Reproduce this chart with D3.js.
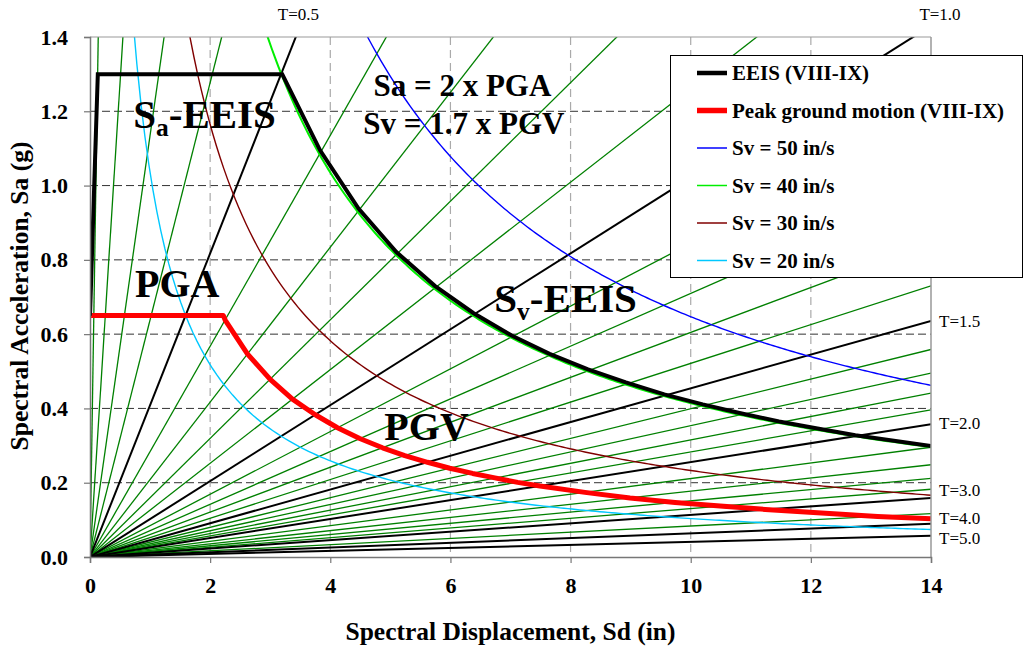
<!DOCTYPE html>
<html>
<head>
<meta charset="utf-8">
<script src="https://cdn.jsdelivr.net/npm/d3@7/dist/d3.min.js"></script>
<style>
  html, body { margin: 0; padding: 0; background: #fff; }
  svg { display: block; font-family: "Liberation Serif", "Times New Roman", serif; }
</style>
</head>
<body>
<svg id="chart" width="1033" height="648"></svg>
<script>
// ---- data -------------------------------------------------------------
const sdTicks = [0, 2, 4, 6, 8, 10, 12, 14];
const saTicks = [0.0, 0.2, 0.4, 0.6, 0.8, 1.0, 1.2, 1.4];

// constant-period lines (s); the labelled ones are drawn heavier
const periods = [0.1, 0.2, 0.3, 0.4, 0.5, 0.6, 0.7, 0.8, 0.9, 1.0,
                 1.1, 1.2, 1.3, 1.4, 1.5, 1.6, 1.7, 1.8, 1.9, 2.0,
                 2.2, 2.4, 2.6, 2.8, 3.0, 3.5, 4.0, 5.0];
const labelledPeriods = [0.5, 1.0, 1.5, 2.0, 3.0, 4.0, 5.0];

// constant spectral-velocity curves (in/s)
const svValues = [50, 40, 30, 20];

// EEIS (VIII-IX) spectrum: [Sd (in), Sa (g)]
const eeisSd = [0, 0.13, 3.20, 3.83, 4.47, 5.10, 5.74, 6.38, 7.01, 7.65, 8.29,
                8.92, 9.56, 10.20, 10.83, 11.47, 12.11, 12.74, 14.0];
const eeisSa = [0.65, 1.30, 1.30, 1.095, 0.938, 0.821, 0.730, 0.657, 0.597, 0.547, 0.505,
                0.470, 0.438, 0.411, 0.387, 0.365, 0.346, 0.328, 0.299];

// Peak ground motion (VIII-IX): [Sd (in), Sa (g)]
const pgmSd = [0, 2.22, 2.25, 2.62, 3.00, 3.37, 3.75, 4.12, 4.49, 4.87, 5.24, 5.62,
               5.99, 6.37, 6.74, 7.12, 7.49, 8.24, 8.99, 9.74, 10.49, 11.24, 13.11, 14.0];
const pgmSa = [0.65, 0.65, 0.638, 0.547, 0.478, 0.425, 0.383, 0.348, 0.319, 0.294, 0.273, 0.255,
               0.239, 0.225, 0.213, 0.201, 0.191, 0.174, 0.159, 0.147, 0.137, 0.128, 0.109, 0.103];

const legendLabels = ["EEIS (VIII-IX)", "Peak ground motion (VIII-IX)",
                      "Sv = 50 in/s", "Sv = 40 in/s", "Sv = 30 in/s", "Sv = 20 in/s"];

// ---- styling ------------------------------------------------------------
const G = 386.4; // in/s^2
const svColor = {50: "#0000ff", 40: "#00ee00", 30: "#800000", 20: "#00c8ff"};
const legendStyle = [
  {color: "#000", width: 4.5},
  {color: "#ff0000", width: 5.5},
  {color: svColor[50], width: 1.5},
  {color: svColor[40], width: 1.5},
  {color: svColor[30], width: 1.5},
  {color: svColor[20], width: 1.5}
];

const svg = d3.select("#chart");
const X0 = 90, X1 = 931, Y0 = 557, Y1 = 37;
const x = d3.scaleLinear().domain([0, 14]).range([X0, X1]);
const y = d3.scaleLinear().domain([0, 1.4]).range([Y0, Y1]);

svg.append("defs").append("clipPath").attr("id", "plotclip")
  .append("rect").attr("x", X0).attr("y", Y1).attr("width", X1 - X0).attr("height", Y0 - Y1);

// grid
const grid = svg.append("g");
grid.selectAll("line.h").data(saTicks.filter(d => d > 0 && d < 1.4)).join("line")
  .attr("x1", X0).attr("x2", X1).attr("y1", d => y(d)).attr("y2", d => y(d))
  .attr("stroke", "#333").attr("stroke-width", 1).attr("stroke-dasharray", "8,4");
grid.selectAll("line.v").data(sdTicks.filter(d => d > 0 && d < 14)).join("line")
  .attr("y1", Y1).attr("y2", Y0).attr("x1", d => x(d)).attr("x2", d => x(d))
  .attr("stroke", "#aaa").attr("stroke-width", 1.2).attr("stroke-dasharray", "8,5");

const plot = svg.append("g").attr("clip-path", "url(#plotclip)");

// constant-period lines: Sa = (2π/T)^2 Sd / g
const slope = T => (4 * Math.PI * Math.PI) / (G * T * T);
const thin = periods.filter(T => !labelledPeriods.includes(T));
plot.selectAll("line.tg").data(thin).join("line")
  .attr("x1", x(0)).attr("y1", y(0))
  .attr("x2", x(14)).attr("y2", T => y(14 * slope(T)))
  .attr("stroke", "#008000").attr("stroke-width", 1.3);
plot.selectAll("line.tb").data(labelledPeriods).join("line")
  .attr("x1", x(0)).attr("y1", y(0))
  .attr("x2", x(14)).attr("y2", T => y(14 * slope(T)))
  .attr("stroke", "#000").attr("stroke-width", 2);

// constant-velocity curves: Sa·Sd = Sv^2 / g
const curveLine = d3.line().x(d => x(d[0])).y(d => y(d[1]));
[20, 30, 50, 40].forEach(sv => {
  const k = sv * sv / G;
  const start = k / 1.45;
  const pts = d3.range(0, 201).map(i => {
    const sd = start + (14 - start) * i / 200;
    return [sd, k / sd];
  });
  plot.append("path").attr("d", curveLine(pts)).attr("fill", "none")
    .attr("stroke", svColor[sv]).attr("stroke-width", sv === 40 ? 2 : 1.4);
});

// spectra
plot.append("path").attr("d", curveLine(pgmSd.map((d, i) => [d, pgmSa[i]])))
  .attr("fill", "none").attr("stroke", "#ff0000").attr("stroke-width", 5)
  .attr("stroke-linejoin", "round");
plot.append("path").attr("d", curveLine(eeisSd.map((d, i) => [d, eeisSa[i]])))
  .attr("fill", "none").attr("stroke", "#000").attr("stroke-width", 4)
  .attr("stroke-linejoin", "miter");

// frame
svg.append("line").attr("x1", X0).attr("x2", X1).attr("y1", Y1).attr("y2", Y1)
  .attr("stroke", "#999").attr("stroke-width", 1.2);
svg.append("line").attr("x1", X1).attr("x2", X1).attr("y1", Y1).attr("y2", Y0)
  .attr("stroke", "#999").attr("stroke-width", 1.5);

// axes
const xAxis = svg.append("g").attr("transform", `translate(0,${Y0})`)
  .call(d3.axisBottom(x).tickValues(sdTicks).tickFormat(d3.format("d")).tickSize(6).tickPadding(14));
const yAxis = svg.append("g").attr("transform", `translate(${X0},0)`)
  .call(d3.axisLeft(y).tickValues(saTicks).tickFormat(d3.format(".1f")).tickSize(6).tickPadding(16));
[xAxis, yAxis].forEach(a => {
  a.select(".domain").attr("stroke", "#777").attr("stroke-width", 1.5);
  a.selectAll(".tick line").attr("stroke", "#777").attr("stroke-width", 1.2);
  a.selectAll(".tick text").attr("font-family", "Liberation Serif").attr("font-weight", "bold")
    .attr("font-size", 22).attr("fill", "#000");
});

// axis titles
svg.append("text").attr("x", (X0 + X1) / 2).attr("y", 640).attr("text-anchor", "middle")
  .attr("font-weight", "bold").attr("font-size", 25.5).text("Spectral Displacement, Sd (in)");
svg.append("text").attr("transform", "translate(28,296) rotate(-90)").attr("text-anchor", "middle")
  .attr("font-weight", "bold").attr("font-size", 25.5).text("Spectral Acceleration, Sa (g)");

// period labels
const periodLabels = [
  {t: "T=0.5", sd: 3.47, sa: 1.4, dy: -17, anchor: "middle"},
  {t: "T=1.0", sd: 14.15, sa: 1.4, dy: -17, anchor: "middle"},
  {t: "T=1.5", sd: 14, sa: 0.636, dy: 6, anchor: "start"},
  {t: "T=2.0", sd: 14, sa: 0.362, dy: 6, anchor: "start"},
  {t: "T=3.0", sd: 14, sa: 0.18, dy: 6, anchor: "start"},
  {t: "T=4.0", sd: 14, sa: 0.104, dy: 6, anchor: "start"},
  {t: "T=5.0", sd: 14, sa: 0.052, dy: 6, anchor: "start"}
];
svg.selectAll("text.plab").data(periodLabels).join("text")
  .attr("x", d => x(d.sd) + (d.anchor === "start" ? 8 : 0))
  .attr("y", d => y(d.sa) + d.dy)
  .attr("text-anchor", d => d.anchor)
  .attr("font-size", 17).text(d => d.t);

// annotations
function subText(sd, sa, main, sub, rest, size) {
  const t = svg.append("text").attr("x", x(sd)).attr("y", y(sa))
    .attr("font-weight", "bold").attr("font-size", size);
  t.append("tspan").text(main);
  if (sub) t.append("tspan").attr("font-size", size * 0.62).attr("dy", size * 0.2).text(sub);
  if (rest) t.append("tspan").attr("dy", sub ? -size * 0.2 : 0).text(rest);
  return t;
}
subText(0.72, 1.155, "S", "a", "-EEIS", 41);
subText(0.75, 0.70, "PGA", null, null, 40);
subText(4.9, 0.315, "PGV", null, null, 40);
subText(6.73, 0.66, "S", "v", "-EEIS", 41);
subText(4.72, 1.24, "Sa = 2 x PGA", null, null, 31);
subText(4.55, 1.14, "Sv = 1.7 x PGV", null, null, 31);

// legend
const lg = svg.append("g");
lg.append("rect").attr("x", 670.5).attr("y", 55.5).attr("width", 352).attr("height", 222)
  .attr("fill", "#fff").attr("stroke", "#000").attr("stroke-width", 1);
const rows = lg.selectAll("g.row").data(legendLabels).join("g")
  .attr("transform", (d, i) => `translate(0,${73 + i * 37.5})`);
rows.append("line").attr("x1", 697).attr("x2", 727).attr("y1", 0).attr("y2", 0)
  .attr("stroke", (d, i) => legendStyle[i].color).attr("stroke-width", (d, i) => legendStyle[i].width);
rows.append("text").attr("x", 732).attr("y", 7).attr("font-weight", "bold").attr("font-size", 21)
  .text(d => d);
</script>
</body>
</html>
